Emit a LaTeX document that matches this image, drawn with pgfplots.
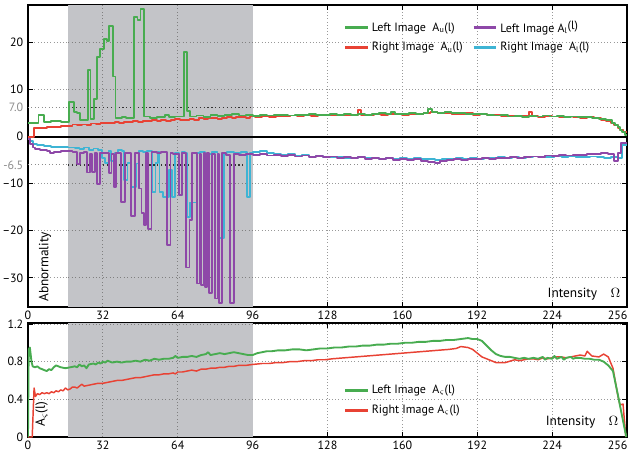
\documentclass[border=0pt]{standalone}
\usepackage{pgfplots}
\pgfplotsset{compat=1.18}
\usepackage{fontspec}
\setmainfont{PT Sans}
\definecolor{shade}{RGB}{195,196,200}
\definecolor{mygreen}{RGB}{72,172,80}
\definecolor{myred}{RGB}{232,66,52}
\definecolor{mypurple}{RGB}{142,72,168}
\definecolor{mycyan}{RGB}{62,180,212}
\begin{document}
\begin{tikzpicture}
\pgfplotsset{
  myaxis/.style={
    scale only axis, width=449.25pt,
    xmin=0, xmax=256,
    xtick={0,32,64,96,128,160,192,224,256},
    xticklabels={0,32,64,96,128,160,192,224,\makebox[0pt][c]{\kern-14pt 256}},
    xticklabel style={inner ysep=0.5pt, yshift=-2.2pt},
    grid=major, major grid style={dotted, black!40, line width=0.6pt},
    axis line style={line width=0.8pt},
    tick style={line width=0.9pt, black},
    major tick length=3.5pt,
    tick label style={font=\fontsize{9}{10}\selectfont},
    label style={font=\fontsize{10}{12}\selectfont, inner sep=0pt},
    every axis plot/.append style={line join=round},
    clip=true,
  },
  shadegrid/.style={dotted, black!50, line width=0.6pt, forget plot},
}
\begin{axis}[myaxis, name=top, at={(0pt,0pt)}, anchor=north west,
  height=226.5pt, ymin=-36.2, ymax=28,
  ytick={-30,-20,-10,0,10,20},
  yticklabels={–30,–20,–10,0,10,20},
  extra y ticks={-6,6.15},
  extra y tick labels={-6.5,7.0},
  extra y tick style={grid=major, major grid style={dotted, black!45, line width=0.7pt},
     tick label style={color=black!45}, major tick length=0pt},
  xlabel={Intensity\quad$\Omega$},
  xlabel style={at={(axis description cs:0.989,0.03)}, anchor=base east},
  ylabel={Abnormality},
  ylabel style={at={(axis description cs:0.034,0.017)}, anchor=base west},
  legend columns=2,
  legend cell align=left,
  legend style={draw=none, fill=none, at={(axis description cs:0.52,0.965)}, anchor=north west,
    font=\fontsize{9}{11}\selectfont, row sep=2pt,
    /tikz/every even column/.append style={column sep=5pt}},
]
\addplot[draw=none, fill=shade, forget plot] coordinates {(17.2,-36.2) (17.2,28) (96,28) (96,-36.2)} -- cycle;
\addplot[shadegrid] coordinates {(32,-36.2) (32,28)};
\addplot[shadegrid] coordinates {(64,-36.2) (64,28)};
\addplot[shadegrid] coordinates {(17.2,-30) (96,-30)};
\addplot[shadegrid] coordinates {(17.2,-20) (96,-20)};
\addplot[shadegrid] coordinates {(17.2,-10) (96,-10)};
\addplot[shadegrid] coordinates {(17.2,10) (96,10)};
\addplot[shadegrid] coordinates {(17.2,20) (96,20)};
\addplot[black!80, dotted, line width=0.9pt, forget plot] coordinates {(17.2,6.15) (96,6.15)};
\addplot[black!80, dotted, line width=0.9pt, forget plot] coordinates {(17.2,-6) (96,-6)};
\addplot[black, line width=1.2pt, forget plot] coordinates {(0,0) (256,0)};
\addlegendimage{mygreen, line width=2pt}
\addlegendentry{Left Image\ \ A\textsubscript{u}(l)}
\addlegendimage{mypurple, line width=2pt}
\addlegendentry{Left Image A\textsubscript{l}\raisebox{0.45ex}{(l)}}
\addlegendimage{myred, line width=2pt}
\addlegendentry{Right Image\ \ A\textsubscript{u}(l)}
\addlegendimage{mycyan, line width=2pt}
\addlegendentry{Right Image\ \ A\textsubscript{l}(l)}
% Right A_l (cyan)
\addplot[const plot, mycyan, line width=1.4pt, forget plot] coordinates {
(0,-0.3) (1,-1.0) (2,-1.5) (4,-1.8) (7,-1.9) (10,-2.1) (14,-2.2) (17,-2.3) (20,-2.4) (22,-2.6) (24,-2.3) (26,-2.8) (28,-2.5) (30,-2.9) (31.6,-4.5) (33,-5.6) (34.4,-3.0) (35.5,-5.2) (37,-3.4) (38.5,-2.9) (40,-3.0) (41,-9.2) (42.5,-5.5) (43.8,-10.6) (46,-5.7) (47.5,-3.0) (49,-3.3) (51,-3.1) (53,-11.7) (54.5,-5.5) (55.5,-3.2) (56.2,-11.7) (57.6,-12.8) (60.2,-7.1) (61.6,-12.8) (63,-3.4) (64.4,-12.4) (65.8,-3.3) (67,-3.5) (68,-17.0) (69.4,-14.0) (72,-3.4) (73.5,-3.2) (75.8,-17.7) (77.2,-3.6) (78.5,-3.3) (81,-21.6) (83.6,-3.4) (85,-3.2) (88,-3.5) (91,-3.3) (93.6,-12.8) (95,-3.4)
(96,-3.3) (99,-3.1) (102,-3.5) (105,-3.6) (108,-3.8) (111,-3.7) (114,-4.0) (117,-3.9) (120,-4.2) (123,-4.1) (126,-4.3) (129,-4.4) (132,-4.3) (135,-4.5) (138,-4.6) (141,-4.4) (144,-4.6) (147,-4.5) (150,-4.7) (153,-4.6) (156,-4.8) (159,-4.6) (162,-4.7) (165,-4.6) (168,-4.8) (171,-4.7) (174,-4.9) (177,-4.8) (180,-4.7) (183,-4.6) (186,-4.8) (189,-4.6) (192,-4.7) (195,-4.5) (198,-4.6) (201,-4.4) (204,-4.5) (207,-4.3) (210,-4.5) (213,-4.4) (216,-4.2) (219,-4.4) (222,-4.3) (225,-4.2) (228,-4.4) (231,-4.2) (234,-4.3) (237,-4.4) (240,-4.2) (243,-4.4) (246,-4.5) (249,-4.3) (252,-4.6) (254,-1.8) (256,-1.8)};
% Left A_l (purple)
\addplot[const plot, mypurple, line width=1.4pt, forget plot] coordinates {
(0,-0.5) (1,-1.5) (2,-2.3) (3,-2.6) (5,-2.8) (8,-3.0) (9.5,-3.5) (11,-3.2) (14,-3.0) (17,-3.1) (19,-3.3) (20.9,-5.8) (22.3,-3.4) (24,-3.3) (25.2,-7.6) (26.6,-3.6) (27.3,-7.5) (28.7,-3.5) (29.4,-10.0) (30.9,-3.4) (33,-3.5) (34.6,-7.8) (35.7,-3.6) (36.7,-10.6) (37.7,-3.4) (39.8,-13.9) (41.5,-3.5) (44.2,-16.9) (45.8,-3.4) (47.4,-11.0) (48.5,-16.3) (49.5,-18.8) (50.5,-3.4) (51.3,-19.7) (52.8,-3.3) (55,-3.5) (57,-3.3) (59.4,-23.0) (60.9,-3.4) (62,-3.6) (64.4,-12.4) (65.8,-3.4) (67.6,-27.8) (69,-17.7) (70.1,-3.5) (72.3,-31.2) (73.4,-3.6) (74.1,-31.6) (75.1,-3.5) (75.5,-31.9) (76.6,-3.5) (77.2,-33.3) (78.6,-3.6) (80.1,-34.4) (81.2,-3.6) (81.8,-35.3) (82.9,-3.5) (84.5,-3.8) (86.5,-35.3) (87.9,-3.6) (90,-3.9) (93,-3.7)
(96,-3.9) (99,-3.7) (102,-4.0) (105,-3.8) (108,-4.1) (111,-3.9) (114,-4.2) (117,-4.0) (120,-4.3) (123,-4.1) (126,-4.4) (129,-4.2) (132,-4.5) (135,-4.3) (138,-4.6) (141,-4.4) (144,-4.7) (147,-4.5) (150,-4.8) (153,-4.6) (156,-4.9) (159,-4.7) (162,-5.0) (165,-4.8) (168,-5.1) (171,-5.3) (174,-5.6) (176,-5.1) (179,-5.0) (182,-4.8) (185,-4.9) (188,-4.7) (191,-4.8) (194,-4.6) (197,-4.7) (200,-4.5) (203,-4.6) (206,-4.4) (209,-4.5) (212,-4.3) (215,-4.2) (218,-4.3) (221,-4.0) (224,-4.1) (227,-3.9) (230,-4.0) (233,-3.8) (236,-3.9) (239,-3.6) (242,-3.7) (245,-3.5) (248,-3.6) (250.5,-5.1) (252,-3.4) (253.5,-1.4) (256,-1.4)};
% Right A_u (red)
\addplot[const plot, myred, line width=1.4pt, forget plot] coordinates {
(0,0) (2.4,1.8) (5,1.9) (8,2.0) (11,2.1) (14,2.2) (17,2.3) (19,2.6) (21,2.4) (23,2.6) (25,2.5) (27,2.8) (29,2.7) (31,2.9) (33,3.0) (35,2.9) (37,3.1) (39,3.0) (41,3.2) (43,3.1) (45,3.3) (47,3.2) (49,3.4) (51,3.3) (53,3.5) (55,3.3) (57,3.6) (59,3.4) (61,3.5) (63,3.7) (65,3.5) (67,3.6) (69,3.8) (71,3.6) (73,3.9) (75,3.7) (77,3.9) (79,4.0) (81,3.8) (83,4.0) (85,4.1) (87,3.9) (89,4.1) (91,4.2) (93,4.0) (95,4.3) (97,4.1) (100,4.3) (103,4.2) (106,4.4) (109,4.3) (112,4.5) (115,4.4) (118,4.6) (121,4.4) (124,4.6) (127,4.5) (130,4.7) (133,4.5) (136,4.7) (139,4.6) (141,5.6) (142.5,4.7) (145,4.6) (148,4.8) (151,4.7) (154,4.9) (157,4.8) (160,4.7) (163,4.9) (166,4.8) (169,5.0) (172,5.2) (175,5.0) (178,5.1) (181,4.9) (184,4.8) (187,5.0) (190,4.7) (193,4.8) (196,4.6) (199,4.7) (202,4.4) (205,4.5) (208,4.3) (211,4.5) (214,5.3) (215.5,4.4) (218,4.2) (221,4.4) (224,4.3) (227,4.1) (230,4.3) (233,4.2) (236,4.0) (239,4.1) (242,3.9) (245,3.6) (247,3.4) (249,3.0) (250.5,2.4) (252,1.8) (253,1.4) (254.5,1.0) (256,1.0)};
% Left A_u (green)
\addplot[const plot, mygreen, line width=1.4pt, forget plot] coordinates {
(0,2.9) (4.5,4.6) (6.8,3.2) (10,3.3) (14,3.2) (17.4,7.4) (19.5,5.2) (20.9,5.0) (22.3,3.6) (25.5,14.2) (26.7,3.8) (28.3,8.0) (29.5,16.9) (30.8,18.6) (32.3,20.8) (33.6,20.4) (34.8,23.6) (36.2,12.8) (37.4,4.0) (40,4.2) (42,3.9) (45.4,25.4) (46.8,24.8) (48.1,27.1) (49.7,4.3) (52,4.0) (55,4.2) (58.5,4.6) (60.2,4.1) (63,4.3) (66.5,18.0) (68,5.4) (69.3,4.3) (72,4.5) (75,4.2) (78,4.6) (81,4.4) (84,4.6) (87,4.8) (90,4.5) (93,4.7) (96,4.4) (99,4.6) (102,4.5) (105,4.7) (108,4.6) (111,4.5) (114,4.7) (117,4.6) (120,4.8) (123,4.6) (126,4.7) (129,4.9) (132,4.7) (135,4.8) (138,4.6) (141,4.9) (144,4.7) (147,4.8) (150,5.0) (153,4.8) (155,5.2) (157,4.9) (160,4.8) (163,5.0) (166,4.9) (169,5.1) (171,5.8) (172.5,5.3) (175,5.1) (178,5.2) (181,5.0) (184,5.1) (187,4.9) (190,4.8) (193,4.9) (196,4.6) (199,4.5) (202,4.6) (205,4.3) (208,4.4) (211,4.2) (214,4.4) (217,4.3) (220,4.5) (223,4.3) (226,4.4) (229,4.2) (232,4.3) (235,4.1) (238,4.2) (241,4.0) (244,3.8) (247,3.6) (249.5,3.0) (250.8,2.5) (252,2.0) (253,1.5) (254,1.0) (255,0.4) (256,0.4)};
\end{axis}
\begin{axis}[myaxis, name=bot, at={(0pt,-238.5pt)}, anchor=north west,
  height=85.5pt, ymin=0, ymax=1.21,
  ytick={0,0.4,0.8,1.2},
  yticklabels={0,0.4,0.8,1.2},
  xlabel={Intensity\quad$\Omega$},
  xlabel style={at={(axis description cs:0.986,0.1)}, anchor=base east},
  ylabel={A\textsubscript{$\varsigma$}(l)},
  ylabel style={at={(axis description cs:0.028,0.09)}, anchor=base west},
  legend cell align=left,
  legend style={draw=none, fill=none, at={(axis description cs:0.52,0.505)}, anchor=north west,
    font=\fontsize{9}{11}\selectfont, row sep=3pt},
]
\addplot[draw=none, fill=shade, forget plot] coordinates {(17.2,0) (17.2,1.21) (96,1.21) (96,0)} -- cycle;
\addplot[shadegrid] coordinates {(32,0) (32,1.21)};
\addplot[shadegrid] coordinates {(64,0) (64,1.21)};
\addplot[shadegrid] coordinates {(17.2,0.4) (96,0.4)};
\addplot[shadegrid] coordinates {(17.2,0.8) (96,0.8)};
\addplot[shadegrid] coordinates {(17.2,1.2) (96,1.2)};
\addlegendimage{mygreen, line width=2pt}
\addlegendentry{Left Image\ \ A\textsubscript{$\varsigma$}(l)}
\addlegendimage{myred, line width=2pt}
\addlegendentry{Right Image A\textsubscript{$\varsigma$}(l)}
\addplot[myred, line width=1.1pt, forget plot] coordinates {
(0,0) (1.8,0) (2.6,0.52) (3.2,0.43) (4,0.46) (5,0.45) (6,0.47) (7,0.46) (8,0.47) (9,0.46) (10,0.48) (11,0.47) (12,0.49) (13,0.48) (14,0.50) (15,0.49) (16,0.52) (17,0.50) (18,0.51) (19,0.53) (20,0.53) (21,0.52) (22,0.54) (23,0.56) (24,0.54) (26,0.55) (28,0.56) (30,0.57) (32,0.57) (34,0.58) (36,0.59) (38,0.60) (40,0.60) (42,0.61) (44,0.62) (46,0.63) (48,0.63) (50,0.64) (52,0.65) (54,0.66) (56,0.66) (58,0.67) (60,0.67) (62,0.68) (63,0.67) (64,0.69) (66,0.69) (68,0.70) (70,0.71) (72,0.70) (74,0.72) (76,0.72) (78,0.73) (80,0.73) (82,0.74) (84,0.74) (86,0.75) (88,0.75) (90,0.76) (93,0.76) (96,0.77) (100,0.78) (103,0.78) (106,0.79) (109,0.79) (112,0.80) (115,0.80) (118,0.81) (121,0.81) (124,0.82) (127,0.82) (130,0.83) (135,0.84) (140,0.85) (145,0.86) (150,0.87) (155,0.88) (160,0.89) (165,0.90) (170,0.91) (175,0.92) (180,0.93) (183,0.94) (185,0.96) (188,0.95) (190,0.93) (192,0.89) (194,0.85) (197,0.82) (200,0.79) (204,0.79) (208,0.82) (210,0.81) (212,0.82) (214,0.83) (216,0.83) (218,0.82) (220,0.84) (222,0.83) (224,0.84) (226,0.85) (228,0.85) (230,0.84) (232,0.85) (234,0.86) (236,0.87) (238,0.86) (239,0.91) (241,0.86) (244,0.85) (246,0.88) (248,0.85) (250,0.73) (252,0.45) (253,0.34) (254.3,0.35) (255.5,0.0)};
\addplot[mygreen, line width=1.4pt, forget plot] coordinates {
(0,0) (0.3,0.93) (0.8,0.95) (1.5,0.80) (2,0.75) (3,0.74) (4,0.75) (5,0.73) (6,0.72) (7,0.71) (8,0.70) (9,0.72) (10,0.71) (11,0.74) (12,0.76) (13,0.75) (14,0.74) (16,0.73) (18,0.74) (20,0.75) (21,0.74) (22,0.77) (23,0.75) (24,0.76) (25,0.73) (26,0.77) (28,0.78) (29,0.77) (30,0.79) (31,0.78) (32,0.80) (33,0.79) (34,0.81) (36,0.79) (38,0.80) (40,0.79) (42,0.80) (44,0.80) (46,0.81) (48,0.80) (50,0.82) (52,0.81) (54,0.83) (56,0.82) (58,0.83) (60,0.83) (62,0.84) (63,0.86) (64,0.84) (66,0.85) (68,0.85) (70,0.86) (72,0.85) (74,0.87) (76,0.88) (77,0.90) (78,0.87) (80,0.88) (82,0.89) (84,0.88) (86,0.89) (88,0.90) (90,0.89) (92,0.88) (94,0.87) (96,0.87) (98,0.89) (100,0.90) (102,0.91) (104,0.91) (107,0.92) (110,0.92) (113,0.93) (116,0.93) (119,0.92) (122,0.93) (125,0.94) (128,0.94) (131,0.95) (134,0.95) (137,0.96) (140,0.96) (143,0.97) (146,0.97) (149,0.98) (152,0.98) (155,0.99) (158,0.99) (161,1.00) (164,1.00) (167,1.01) (170,1.01) (173,1.02) (176,1.02) (179,1.03) (182,1.03) (185,1.04) (188,1.05) (190,1.04) (192,1.04) (194,1.02) (196,0.97) (198,0.92) (200,0.88) (202,0.86) (204,0.85) (206,0.85) (208,0.84) (210,0.83) (212,0.84) (214,0.83) (216,0.84) (218,0.83) (220,0.85) (221,0.82) (222,0.84) (224,0.83) (225,0.86) (226,0.83) (228,0.85) (229,0.82) (230,0.84) (232,0.85) (233,0.83) (234,0.84) (236,0.84) (238,0.83) (240,0.83) (242,0.82) (244,0.82) (246,0.80) (248,0.76) (250,0.70) (252,0.46) (254,0.21) (255.7,0)};
\end{axis}
\pgfresetboundingbox
\path (-21pt,3.75pt) rectangle (450pt,-335.25pt);
\end{tikzpicture}
\end{document}
